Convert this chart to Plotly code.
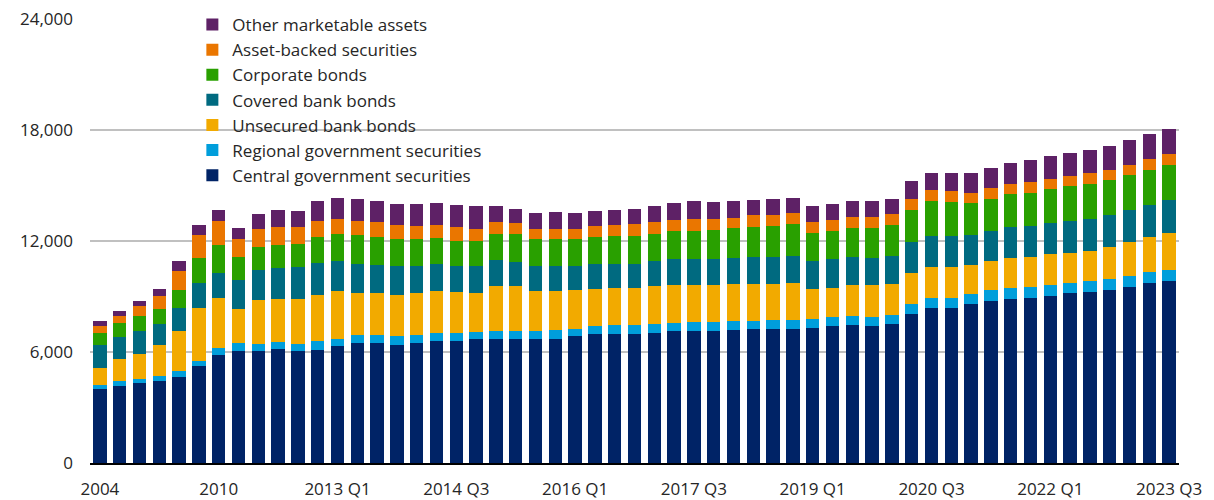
import plotly.graph_objects as go

# Periods: annual to 2011, then quarterly from 2012 Q1 to 2023 Q3
years_annual = [str(y) for y in range(2004, 2012)]
quarters = [f"{y} Q{q}" for y in range(2012, 2024) for q in range(1, 5)][:47]
periods = years_annual + quarters

central_gov = [4000, 4170, 4320, 4430, 4660, 5250, 5850, 6080, 6030, 6140,
               6030, 6130, 6320, 6500, 6500, 6370, 6500, 6600, 6600, 6680,
               6680, 6730, 6730, 6730, 6860, 6970, 6970, 6970, 7040, 7140,
               7140, 7140, 7200, 7270, 7270, 7270, 7320, 7380, 7450, 7380,
               7520, 8060, 8390, 8390, 8590, 8760, 8880, 8940, 9050, 9180,
               9230, 9360, 9540, 9720, 9830]
regional_gov = [230, 240, 230, 280, 290, 290, 340, 400, 410, 420,
                410, 470, 410, 410, 410, 500, 410, 420, 420, 410,
                470, 420, 420, 470, 390, 410, 480, 480, 470, 420,
                490, 490, 480, 410, 470, 470, 470, 490, 500, 500,
                490, 510, 550, 550, 540, 600, 600, 580, 590, 570,
                600, 580, 590, 590, 590]
unsecured_bank = [900, 1200, 1350, 1660, 2190, 2860, 2740, 1870, 2380, 2310,
                  2430, 2500, 2550, 2270, 2270, 2230, 2270, 2260, 2210, 2120,
                  2420, 2420, 2130, 2080, 2110, 2030, 2020, 2020, 2070, 2080,
                  2010, 2010, 2020, 2020, 1960, 2010, 1620, 1600, 1660, 1730,
                  1660, 1690, 1660, 1660, 1600, 1550, 1600, 1620, 1660, 1620,
                  1650, 1720, 1840, 1890, 2020]
covered_bank = [1260, 1190, 1210, 1140, 1260, 1350, 1360, 1550, 1620, 1680,
                1730, 1730, 1630, 1600, 1530, 1550, 1470, 1500, 1420, 1440,
                1390, 1320, 1370, 1370, 1290, 1370, 1310, 1310, 1320, 1380,
                1380, 1380, 1390, 1440, 1440, 1440, 1500, 1550, 1530, 1480,
                1540, 1710, 1670, 1670, 1600, 1650, 1660, 1670, 1680, 1710,
                1730, 1730, 1720, 1730, 1790]
corporate = [630, 760, 810, 840, 960, 1340, 1500, 1260, 1220, 1240,
             1260, 1370, 1470, 1550, 1490, 1450, 1450, 1370, 1370, 1370,
             1420, 1490, 1450, 1450, 1450, 1420, 1490, 1490, 1490, 1540,
             1540, 1590, 1600, 1600, 1660, 1730, 1530, 1540, 1550, 1600,
             1660, 1730, 1910, 1840, 1730, 1730, 1790, 1790, 1850, 1910,
             1860, 1910, 1890, 1910, 1880]
asset_backed = [360, 360, 540, 700, 1040, 1240, 1310, 940, 980, 950,
                880, 880, 830, 750, 830, 770, 700, 720, 720, 650,
                650, 600, 570, 570, 570, 600, 580, 650, 640, 590,
                650, 600, 570, 650, 590, 580, 590, 590, 590, 590,
                590, 590, 600, 590, 540, 590, 530, 570, 520, 540,
                590, 540, 540, 590, 600]
other_assets = [300, 300, 300, 360, 540, 540, 580, 620, 810, 960,
                900, 1080, 1130, 1190, 1130, 1120, 1190, 1170, 1190, 1210,
                850, 770, 830, 900, 830, 820, 840, 830, 850, 890,
                950, 880, 900, 830, 880, 840, 850, 840, 880, 880,
                830, 950, 880, 960, 1060, 1080, 1180, 1190, 1260, 1240,
                1240, 1310, 1320, 1350, 1370]

series = [
    ("Central government securities", central_gov, "#002366"),
    ("Regional government securities", regional_gov, "#009EDB"),
    ("Unsecured bank bonds", unsecured_bank, "#F2AA00"),
    ("Covered bank bonds", covered_bank, "#006A80"),
    ("Corporate bonds", corporate, "#29A000"),
    ("Asset-backed securities", asset_backed, "#EA7600"),
    ("Other marketable assets", other_assets, "#5E2166"),
]

y_ticks = [0, 6000, 12000, 18000, 24000]
x_tick_labels = periods[::6]

FONT = "'Open Sans', Lato, sans-serif"
TEXT = "#262626"

fig = go.Figure()
for name, values, color in series:
    fig.add_trace(go.Bar(
        x=periods, y=values, name=name,
        marker=dict(color=color, line=dict(width=0)),
    ))

fig.update_layout(
    barmode="stack",
    bargap=0.33,
    width=1214, height=500,
    margin=dict(l=90, r=35, t=19, b=37, autoexpand=False),
    paper_bgcolor="white",
    plot_bgcolor="white",
    font=dict(family=FONT, size=17, color=TEXT),
    showlegend=True,
    legend=dict(
        traceorder="reversed",
        x=0.094, y=1.027, xanchor="left", yanchor="top",
        bgcolor="rgba(0,0,0,0)",
        font=dict(family=FONT, size=17, color=TEXT),
        itemwidth=30,
        tracegroupgap=0,
    ),
    xaxis=dict(
        type="category",
        tickmode="array",
        tickvals=x_tick_labels,
        ticktext=x_tick_labels,
        tickangle=0,
        showgrid=False,
        showline=True, linecolor="#000000", linewidth=2,
        ticks="",
        ticklabelstandoff=10,
        automargin=False,
        tickfont=dict(family=FONT, size=17, color=TEXT),
    ),
    yaxis=dict(
        range=[0, 24000],
        tickvals=y_ticks,
        tickformat=",d",
        showgrid=True, gridcolor="#C0C0C0", gridwidth=2,
        zeroline=False,
        showline=False,
        ticks="",
        ticklabelstandoff=16,
        automargin=False,
        tickfont=dict(family=FONT, size=17, color=TEXT),
    ),
)

fig.write_html("out.html")
